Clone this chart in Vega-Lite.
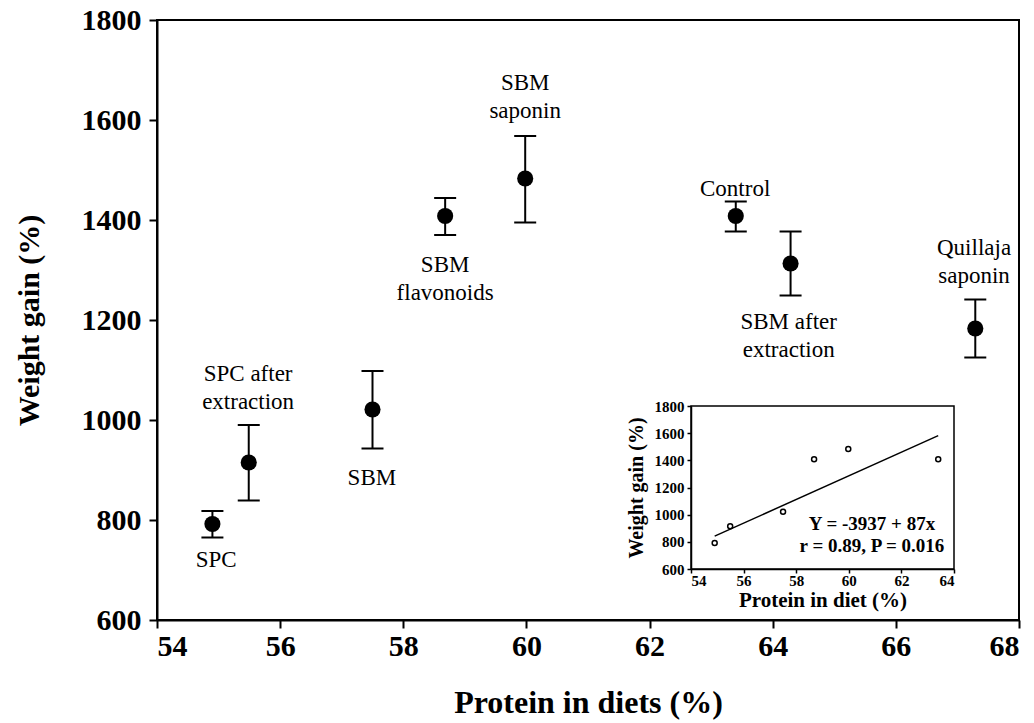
{
  "$schema": "https://vega.github.io/schema/vega-lite/v6.json",
  "width": 862,
  "height": 600,
  "autosize": "none",
  "padding": {"left": 157, "top": 20, "right": 15, "bottom": 103},
  "background": "white",
  "config": {
    "view": {"stroke": "black", "strokeWidth": 2},
    "font": "Liberation Serif",
    "axis": {"grid": false, "format": "d", "domainColor": "black", "tickColor": "black", "labelColor": "black", "titleColor": "black", "labelFont": "Liberation Serif", "titleFont": "Liberation Serif", "labelFontWeight": "bold", "titleFontWeight": "bold"}
  },
  "datasets": {
    "pts": [
      {"diet": "SPC", "protein": 54.9, "gain": 792, "lo": 765, "hi": 818},
      {"diet": "SPC after extraction", "protein": 55.49, "gain": 915, "lo": 839, "hi": 990},
      {"diet": "SBM", "protein": 57.5, "gain": 1021, "lo": 943, "hi": 1098},
      {"diet": "SBM flavonoids", "protein": 58.68, "gain": 1408, "lo": 1370, "hi": 1444},
      {"diet": "SBM saponin", "protein": 59.98, "gain": 1483, "lo": 1395, "hi": 1568},
      {"diet": "Control", "protein": 63.4, "gain": 1408, "lo": 1377, "hi": 1437},
      {"diet": "SBM after extraction", "protein": 64.29, "gain": 1313, "lo": 1249, "hi": 1377},
      {"diet": "Quillaja saponin", "protein": 67.29, "gain": 1183, "lo": 1125, "hi": 1241}
    ],
    "labels": [
      {"label": "SPC", "lx": 54.96, "ly": 707},
      {"label": "SPC after\nextraction", "lx": 55.48, "ly": 1079},
      {"label": "SBM", "lx": 57.49, "ly": 871},
      {"label": "SBM\nflavonoids", "lx": 58.68, "ly": 1297},
      {"label": "SBM\nsaponin", "lx": 59.98, "ly": 1661},
      {"label": "Control", "lx": 63.39, "ly": 1448},
      {"label": "SBM after\nextraction", "lx": 64.26, "ly": 1183},
      {"label": "Quillaja\nsaponin", "lx": 67.27, "ly": 1331}
    ],
    "fit": [
      {"protein": 54.9, "gain": 842},
      {"protein": 63.4, "gain": 1582}
    ],
    "frame": [{"x1": 54, "x2": 64, "y1": 600, "y2": 1800}],
    "eq": [{"text": "Y = -3937 + 87x\nr = 0.89, P = 0.016", "ex": 60.88, "ey": 887}]
  },
  "layer": [
    {
      "layer": [
        {
          "data": {"name": "pts"},
          "mark": {"type": "rule", "color": "black", "strokeWidth": 2},
          "encoding": {
            "x": {"field": "protein", "type": "quantitative",
              "scale": {"domain": [54, 68], "nice": false, "zero": false},
              "axis": {"orient": "bottom", "values": [54, 56, 58, 60, 62, 64, 66, 68], "title": "Protein in diets (%)", "labelFontSize": 30, "titleFontSize": 32, "tickSize": 8, "tickWidth": 2, "domainWidth": 2, "labelPadding": 3, "titlePadding": 26}},
            "y": {"field": "lo", "type": "quantitative",
              "scale": {"domain": [600, 1800], "nice": false, "zero": false},
              "axis": {"orient": "left", "values": [600, 800, 1000, 1200, 1400, 1600, 1800], "title": "Weight gain (%)", "labelFontSize": 30, "titleFontSize": 30, "tickSize": 8, "tickWidth": 2, "domainWidth": 2, "labelPadding": 8, "titlePadding": 37}},
            "y2": {"field": "hi"}
          }
        },
        {
          "data": {"name": "pts"},
          "mark": {"type": "tick", "orient": "horizontal", "size": 22, "thickness": 2, "color": "black", "opacity": 1},
          "encoding": {
            "x": {"field": "protein", "type": "quantitative"},
            "y": {"field": "lo", "type": "quantitative"}
          }
        },
        {
          "data": {"name": "pts"},
          "mark": {"type": "tick", "orient": "horizontal", "size": 22, "thickness": 2, "color": "black", "opacity": 1},
          "encoding": {
            "x": {"field": "protein", "type": "quantitative"},
            "y": {"field": "hi", "type": "quantitative"}
          }
        },
        {
          "data": {"name": "pts"},
          "mark": {"type": "point", "shape": "circle", "filled": true, "size": 260, "color": "black", "opacity": 1},
          "encoding": {
            "x": {"field": "protein", "type": "quantitative"},
            "y": {"field": "gain", "type": "quantitative"}
          }
        },
        {
          "data": {"name": "labels"},
          "mark": {"type": "text", "font": "Liberation Serif", "fontSize": 23, "color": "black", "align": "center", "baseline": "alphabetic", "lineBreak": "\n", "lineHeight": 28},
          "encoding": {
            "x": {"field": "lx", "type": "quantitative"},
            "y": {"field": "ly", "type": "quantitative"},
            "text": {"field": "label"}
          }
        }
      ]
    },
    {
      "layer": [
        {
          "data": {"name": "frame"},
          "mark": {"type": "rect", "fill": "white", "stroke": "black", "strokeWidth": 1.5},
          "encoding": {
            "x": {"field": "x1", "type": "quantitative",
              "scale": {"domain": [54, 64], "range": [534, 797], "nice": false, "zero": false},
              "axis": {"orient": "bottom", "offset": -51, "zindex": 1, "values": [54, 56, 58, 60, 62, 64], "title": "Protein in diet (%)", "labelFontSize": 15, "titleFontSize": 21, "tickSize": 4, "tickWidth": 1.5, "domainWidth": 1.5, "labelPadding": 0, "titlePadding": 1}},
            "x2": {"field": "x2"},
            "y": {"field": "y1", "type": "quantitative",
              "scale": {"domain": [600, 1800], "range": [549, 386], "nice": false, "zero": false},
              "axis": {"orient": "left", "offset": -534, "zindex": 1, "values": [600, 800, 1000, 1200, 1400, 1600, 1800], "title": "Weight gain (%)", "labelFontSize": 15, "titleFontSize": 20, "tickSize": 4, "tickWidth": 1.5, "domainWidth": 1.5, "labelPadding": 3, "titlePadding": 8}},
            "y2": {"field": "y2"}
          }
        },
        {
          "data": {"name": "fit"},
          "mark": {"type": "line", "color": "black", "strokeWidth": 1.5},
          "encoding": {
            "x": {"field": "protein", "type": "quantitative"},
            "y": {"field": "gain", "type": "quantitative"}
          }
        },
        {
          "data": {"name": "pts"},
          "transform": [{"filter": "datum.protein < 64"}],
          "mark": {"type": "point", "shape": "circle", "filled": false, "size": 25, "stroke": "black", "strokeWidth": 1.5, "opacity": 1},
          "encoding": {
            "x": {"field": "protein", "type": "quantitative"},
            "y": {"field": "gain", "type": "quantitative"}
          }
        },
        {
          "data": {"name": "eq"},
          "mark": {"type": "text", "font": "Liberation Serif", "fontWeight": "bold", "fontSize": 19, "color": "black", "align": "center", "baseline": "alphabetic", "lineBreak": "\n", "lineHeight": 22},
          "encoding": {
            "x": {"field": "ex", "type": "quantitative"},
            "y": {"field": "ey", "type": "quantitative"},
            "text": {"field": "text"}
          }
        }
      ]
    }
  ],
  "resolve": {
    "scale": {"x": "independent", "y": "independent"},
    "axis": {"x": "independent", "y": "independent"}
  }
}
